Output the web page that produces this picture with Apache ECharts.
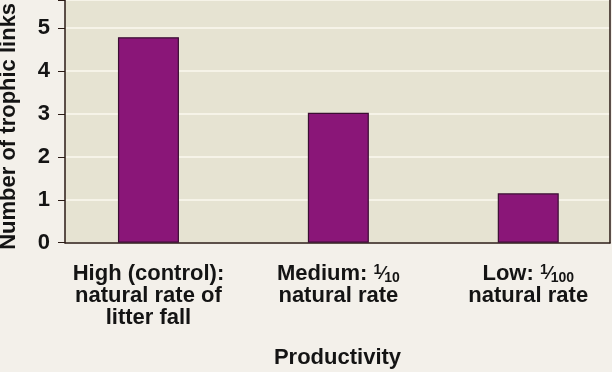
<!DOCTYPE html>
<html>
<head>
<meta charset="utf-8">
<script src="https://cdn.jsdelivr.net/npm/echarts@6/dist/echarts.min.js"></script>
<style>
html,body{margin:0;padding:0;background:#f3f0ea;}
#c{width:612px;height:372px;}
</style>
</head>
<body>
<div id="c"></div>
<script>
var categories = ['High', 'Medium', 'Low'];
var categoryLabels = [
  'High (control):\nnatural rate of\nlitter fall',
  'Medium: {sup|1}{sl|⁄}{sub|10}\nnatural rate',
  'Low: {sup|1}{sl|⁄}{sub|100}\nnatural rate'
];
var trophicLinks = [4.79, 3.03, 1.15];
var yTicks = [0, 1, 2, 3, 4, 5];
var yMax = 5.657;

var FONT = '"Liberation Sans", Arial, Helvetica, sans-serif';
var TXT = '#141414';
var chart = echarts.init(document.getElementById('c'), null, {renderer: 'canvas'});
chart.setOption({
  backgroundColor: '#f3f0ea',
  animation: false,
  grid: [
    {left: 65, right: 2, top: 0, bottom: 129.3, show: true, backgroundColor: '#e6e3d2', borderWidth: 0,
     containLabel: false, outerBoundsMode: 'none'},
    {left: 53.5, width: 569.7, top: 0, bottom: 129.3, show: false,
     containLabel: false, outerBoundsMode: 'none'}
  ],
  xAxis: [
    {
      gridIndex: 0, type: 'category', data: categories,
      axisLine: {show: true, lineStyle: {color: '#2a1a14', width: 1.5}},
      axisTick: {show: false}, axisLabel: {show: false},
      name: 'Productivity', nameLocation: 'middle', nameGap: 104,
      nameTextStyle: {fontFamily: FONT, fontWeight: 'bold', fontSize: 22, color: TXT}
    },
    {
      gridIndex: 1, type: 'category', data: categories,
      axisLine: {show: false}, axisTick: {show: false},
      axisLabel: {
        interval: 0, hideOverlap: false,
        margin: 20,
        formatter: function (v, i) { return categoryLabels[i]; },
        fontFamily: FONT, fontWeight: 'bold', fontSize: 22, lineHeight: 22, color: TXT,
        align: 'center',
        rich: {
          sup: {fontFamily: FONT, fontWeight: 'bold', fontSize: 14, lineHeight: 14, verticalAlign: 'top', color: TXT},
          sl: {fontFamily: FONT, fontWeight: 'bold', fontSize: 18, lineHeight: 22, color: TXT},
          sub: {fontFamily: FONT, fontWeight: 'bold', fontSize: 14, lineHeight: 14, verticalAlign: 'bottom', color: TXT}
        }
      }
    }
  ],
  yAxis: [
    {
      gridIndex: 0, type: 'value', min: 0, max: yMax, interval: 1,
      axisLine: {show: true, lineStyle: {color: '#2a1a14', width: 1.5}},
      axisTick: {show: true, length: 7, lineStyle: {color: '#2a1a14', width: 1}},
      axisLabel: {
        margin: 15, fontFamily: FONT, fontWeight: 'bold', fontSize: 22, color: TXT,
        formatter: function (v) { return yTicks.indexOf(v) >= 0 ? String(v) : ''; }
      },
      splitLine: {show: true, lineStyle: {color: '#fbf9ef', width: 1.5}},
      name: 'Number of trophic links', nameLocation: 'middle', nameGap: 45, nameRotate: 90,
      nameTextStyle: {fontFamily: FONT, fontWeight: 'bold', fontSize: 22, color: TXT, padding: [0, 10, 0, 0]}
    },
    {
      gridIndex: 0, type: 'value', min: 0, max: yMax, position: 'right',
      axisLine: {show: true, lineStyle: {color: '#2a1a14', width: 1.5}},
      axisTick: {show: false}, axisLabel: {show: false}, splitLine: {show: false}
    },
    {
      gridIndex: 1, type: 'value', min: 0, max: yMax, show: false
    }
  ],
  series: [{
    type: 'bar', xAxisIndex: 1, yAxisIndex: 2,
    data: trophicLinks, barWidth: 61,
    itemStyle: {color: '#8a1678', borderColor: '#3a0e32', borderWidth: 1.2}
  }]
});
</script>
</body>
</html>
